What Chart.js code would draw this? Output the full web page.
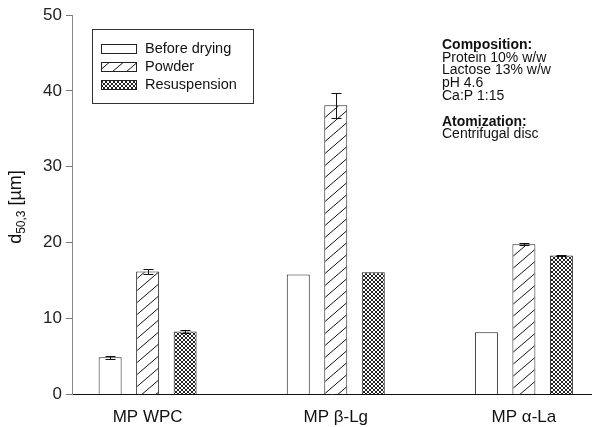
<!DOCTYPE html>
<html>
<head>
<meta charset="utf-8">
<script src="https://cdn.jsdelivr.net/npm/chart.js@4/dist/chart.umd.min.js"></script>
<style>
html,body{margin:0;padding:0;background:#fff}
#wrap{width:592px;height:427px;position:relative}
</style>
</head>
<body>
<div id="wrap"><canvas id="chart" width="592" height="427"></canvas></div>
<script>
// data
const categories = ['MP WPC', 'MP \u03b2-Lg', 'MP \u03b1-La'];
const seriesNames = ['Before drying', 'Powder', 'Resuspension'];
const beforeDrying = [4.9, 15.8, 8.2];
const powder = [16.2, 38.1, 19.8];
const resuspension = [8.3, 16.1, 18.3];
const beforeErr = [0.2, 0, 0];
const powderErr = [0.35, 1.65, 0.1];
const resuspErr = [0.25, 0, 0.1];
const yTicks = [0, 10, 20, 30, 40, 50];
const notes = [
  {t: 'Composition:', b: true}, {t: 'Protein 10% w/w'}, {t: 'Lactose 13% w/w'},
  {t: 'pH 4.6'}, {t: 'Ca:P 1:15'}, {t: ''},
  {t: 'Atomization:', b: true}, {t: 'Centrifugal disc'}
];

const FONT = '"Liberation Sans", Arial, sans-serif';

// fill patterns
function hatch(){
  const c = document.createElement('canvas'); c.width = 14; c.height = 12;
  const x = c.getContext('2d');
  x.fillStyle = '#fff'; x.fillRect(0,0,14,12);
  x.strokeStyle = '#111'; x.lineWidth = 1;
  [[0,0],[14,-12],[-14,12]].forEach(o=>{x.beginPath();x.moveTo(o[0],12+o[1]);x.lineTo(14+o[0],o[1]);x.stroke()});
  return x.createPattern(c,'repeat');
}
function cross(){
  const c = document.createElement('canvas'); c.width = 4; c.height = 4;
  const x = c.getContext('2d');
  x.fillStyle = '#fff'; x.fillRect(0,0,4,4);
  x.fillStyle = '#222';
  for(let i=0;i<4;i++){x.fillRect(i,i,1,1);x.fillRect(3-i,i,1,1)}
  return x.createPattern(c,'repeat');
}
const fills = ['#fff', hatch(), cross()];
const series = [beforeDrying, powder, resuspension];
const errs = [beforeErr, powderErr, resuspErr];

const toXY = arr => arr.map((v,i)=>({x:i+1, y:v}));

// error bars, legend box, notes and y title
const extras = {
  id: 'extras',
  afterDatasetsDraw(chart){
    const ctx = chart.ctx, ys = chart.scales.y;
    ctx.save();
    ctx.strokeStyle = '#111'; ctx.lineWidth = 1;
    series.forEach((s,di)=>{
      const meta = chart.getDatasetMeta(di);
      s.forEach((v,i)=>{
        const e = errs[di][i]; if(!e) return;
        const bx = Math.round(meta.data[i].x)+0.5;
        const t = Math.round(ys.getPixelForValue(v+e))+0.5, b = Math.round(ys.getPixelForValue(v-e))+0.5;
        ctx.beginPath();
        ctx.moveTo(bx,t);ctx.lineTo(bx,b);
        ctx.moveTo(bx-5,t);ctx.lineTo(bx+5,t);
        ctx.moveTo(bx-5,b);ctx.lineTo(bx+5,b);
        ctx.stroke();
      });
    });
    ctx.restore();
  },
  afterDraw(chart){
    const ctx = chart.ctx;
    ctx.save();
    // legend
    ctx.strokeStyle = '#333'; ctx.lineWidth = 1;
    ctx.strokeRect(92.5, 29.5, 161, 74);
    const rows = [49, 67, 85];
    ctx.font = '14.5px ' + FONT; ctx.textBaseline = 'middle'; ctx.fillStyle = '#111';
    seriesNames.forEach((n,i)=>{
      ctx.fillStyle = fills[i];
      ctx.fillRect(102, rows[i]-4, 34, 8);
      ctx.strokeStyle = '#222';
      ctx.strokeRect(101.5, rows[i]-4.5, 35, 9);
      ctx.fillStyle = '#111';
      ctx.fillText(n, 145, rows[i]);
    });
    // notes
    notes.forEach((n,i)=>{
      ctx.font = (n.b ? 'bold ' : '') + '14px ' + FONT;
      ctx.fillText(n.t, 442, 45 + i*12.8);
    });
    // y axis title with subscript
    ctx.translate(15, 207);
    ctx.rotate(-Math.PI/2);
    const a = 'd', sub = '50,3', rest = ' [\u00b5m]';
    ctx.font = '18px ' + FONT; const wa = ctx.measureText(a).width, wr = ctx.measureText(rest).width;
    ctx.font = '12px ' + FONT; const ws = ctx.measureText(sub).width;
    let x0 = -(wa+ws+wr)/2;
    ctx.textBaseline = 'alphabetic';
    ctx.font = '18px ' + FONT; ctx.fillText(a, x0, 6);
    ctx.font = '12px ' + FONT; ctx.fillText(sub, x0+wa, 10);
    ctx.font = '18px ' + FONT; ctx.fillText(rest, x0+wa+ws, 6);
    ctx.restore();
  }
};

new Chart(document.getElementById('chart'), {
  type: 'bar',
  data: {
    datasets: series.map((s,i)=>({
      label: seriesNames[i],
      data: toXY(s),
      backgroundColor: fills[i],
      borderColor: '#222',
      borderWidth: 1,
      categoryPercentage: 0.598,
      barPercentage: 0.613
    }))
  },
  options: {
    responsive: false,
    animation: false,
    layout: {padding: {top: 15, left: 0, right: 0, bottom: 0}},
    plugins: {legend: {display: false}, tooltip: {enabled: false}},
    scales: {
      x: {
        type: 'linear', min: 0.598, max: 3.362, offset: false,
        afterBuildTicks: s => { s.ticks = categories.map((c,i)=>({value:i+1})); },
        afterFit: s => { s.height = 32.5; },
        ticks: {callback: v => categories[v-1] || '', font: {family: FONT, size: 17}, color: '#111', padding: 13, maxRotation: 0, autoSkip: false},
        grid: {display: true, drawOnChartArea: false, drawTicks: false},
        border: {color: '#111', width: 1}
      },
      y: {
        min: 0, max: 50,
        afterBuildTicks: s => { s.ticks = yTicks.map(v=>({value:v})); },
        afterFit: s => { s.width = 72; },
        ticks: {font: {family: FONT, size: 17}, color: '#222', padding: 4},
        grid: {display: true, drawOnChartArea: false, tickLength: 6, color: '#777'},
        border: {color: '#888', width: 1}
      }
    }
  },
  plugins: [extras]
});
</script>
</body>
</html>
